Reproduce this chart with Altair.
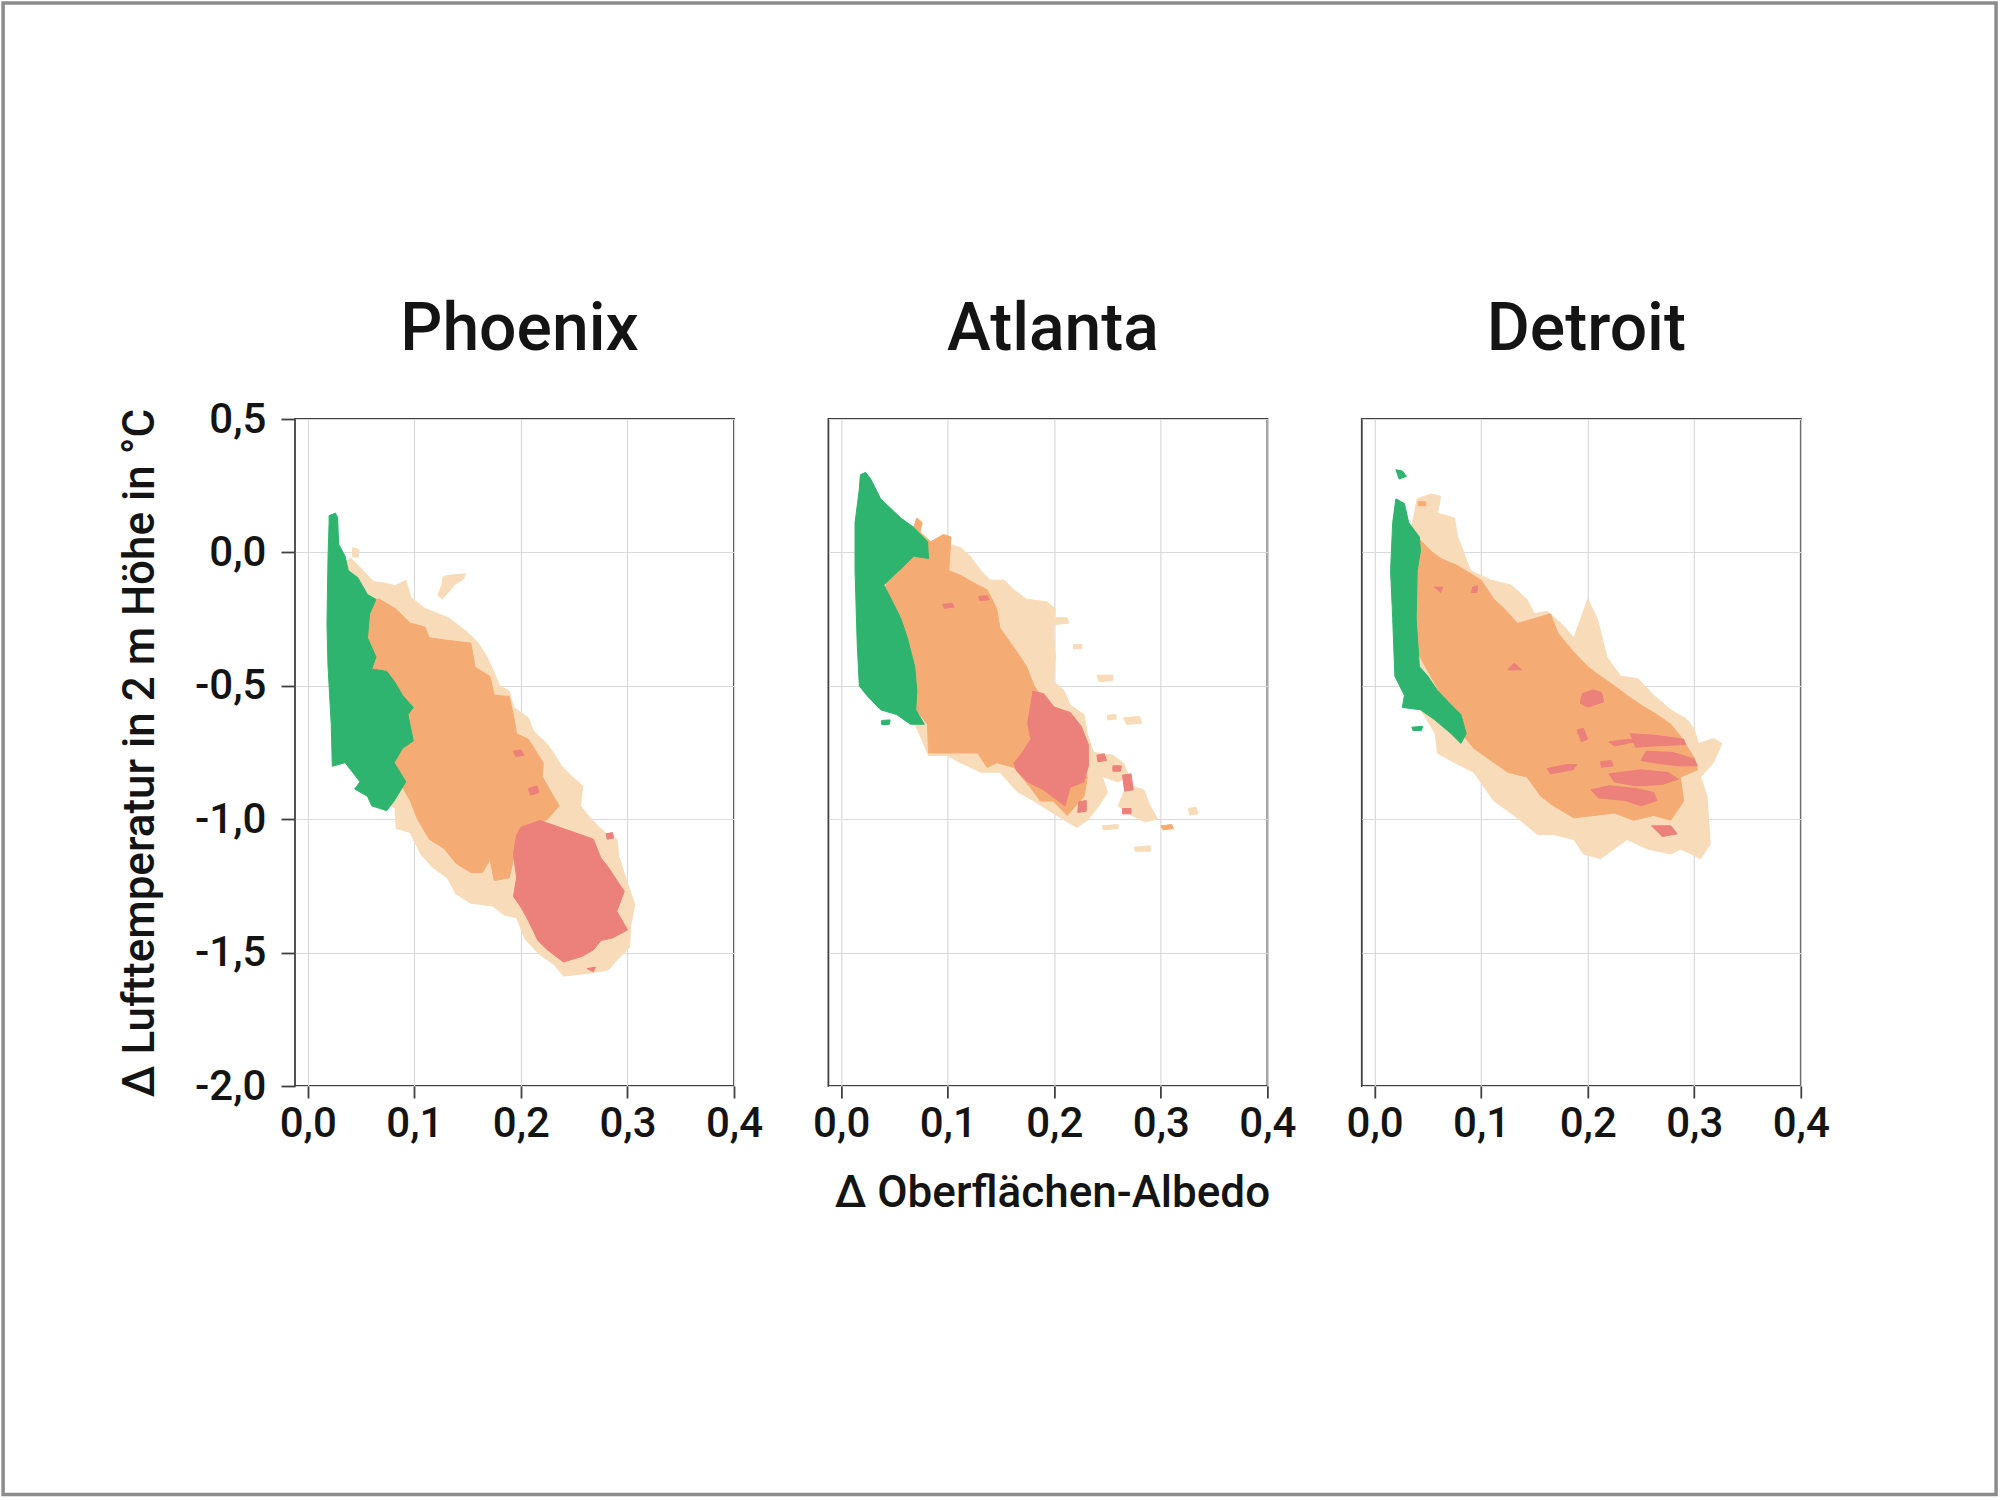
import altair as alt
import pandas as pd

# ---------------------------------------------------------------------------
# Data: outlines of the filled density regions (albedo change, temperature change)
# ---------------------------------------------------------------------------
CITIES = ["Phoenix", "Atlanta", "Detroit"]
DRAW_ORDER = ["peach", "orange", "red", "green"]
LAYER_COLORS = {
    "peach": "#F8DCB9",
    "orange": "#F5AC74",
    "red": "#EC807A",
    "green": "#2EB46F",
}

X_TICKS = [0.0, 0.1, 0.2, 0.3, 0.4]
Y_TICKS = [-2.0, -1.5, -1.0, -0.5, 0.0, 0.5]
X_TITLE = "Δ Oberflächen-Albedo"
Y_TITLE = "Δ Lufttemperatur in 2 m Höhe in °C"

# --- Phoenix ---------------------------------------------------------------
PHOENIX_PEACH_MAIN = [
    (0.040, -0.02), (0.050, -0.06), (0.062, -0.11), (0.072, -0.115), (0.082, -0.125),
    (0.092, -0.105), (0.097, -0.17), (0.110, -0.21), (0.132, -0.245), (0.150, -0.30),
    (0.160, -0.34), (0.168, -0.39), (0.176, -0.46), (0.180, -0.50), (0.189, -0.52),
    (0.193, -0.58), (0.207, -0.62), (0.212, -0.67), (0.225, -0.72), (0.232, -0.76),
    (0.238, -0.80), (0.248, -0.84), (0.258, -0.875), (0.256, -0.95), (0.266, -1.00),
    (0.279, -1.05), (0.290, -1.075), (0.292, -1.14), (0.300, -1.24), (0.307, -1.32),
    (0.303, -1.40), (0.302, -1.48), (0.292, -1.52), (0.282, -1.565), (0.262, -1.578),
    (0.240, -1.588), (0.231, -1.545), (0.217, -1.505), (0.204, -1.45), (0.196, -1.37),
    (0.185, -1.36), (0.173, -1.325), (0.153, -1.315), (0.139, -1.28), (0.131, -1.22),
    (0.117, -1.18), (0.106, -1.13), (0.096, -1.05), (0.083, -1.035), (0.082, -0.96),
    (0.060, -0.90), (0.040, -0.50), (0.035, -0.05),
]
PHOENIX_PEACH_TOP = [
    (0.127, -0.09), (0.135, -0.085), (0.148, -0.08), (0.146, -0.10), (0.138, -0.12),
    (0.132, -0.15), (0.126, -0.175), (0.122, -0.16), (0.126, -0.12),
]
PHOENIX_PEACH_DOT = [(0.042, 0.018), (0.048, 0.010), (0.047, -0.020), (0.042, -0.015)]

PHOENIX_ORANGE_MAIN = [
    (0.058, -0.18), (0.067, -0.175), (0.082, -0.21), (0.096, -0.265), (0.110, -0.28),
    (0.114, -0.32), (0.132, -0.33), (0.153, -0.34), (0.157, -0.43), (0.171, -0.465),
    (0.175, -0.535), (0.189, -0.54), (0.193, -0.61), (0.196, -0.68), (0.207, -0.70),
    (0.221, -0.79), (0.220, -0.84), (0.230, -0.91), (0.236, -0.95), (0.225, -1.00),
    (0.211, -1.03), (0.196, -1.075), (0.193, -1.15), (0.189, -1.22), (0.175, -1.23),
    (0.171, -1.15), (0.164, -1.20), (0.153, -1.20), (0.139, -1.165), (0.128, -1.11),
    (0.114, -1.075), (0.103, -1.00), (0.096, -0.93), (0.089, -0.88), (0.080, -0.85),
    (0.060, -0.60), (0.050, -0.30),
]

PHOENIX_RED_MAIN = [
    (0.200, -1.03), (0.218, -1.005), (0.236, -1.03), (0.254, -1.055), (0.268, -1.075),
    (0.275, -1.145), (0.282, -1.18), (0.291, -1.235), (0.297, -1.27), (0.290, -1.345),
    (0.300, -1.415), (0.286, -1.445), (0.275, -1.455), (0.268, -1.49), (0.257, -1.515),
    (0.240, -1.535), (0.225, -1.49), (0.216, -1.455), (0.207, -1.38), (0.200, -1.33),
    (0.193, -1.29), (0.196, -1.22), (0.193, -1.13), (0.196, -1.06),
]
PHOENIX_RED_SPOTS = [
    [(0.193, -0.745), (0.200, -0.740), (0.203, -0.760), (0.195, -0.765)],
    [(0.207, -0.885), (0.215, -0.875), (0.217, -0.900), (0.209, -0.910)],
    [(0.280, -1.055), (0.286, -1.050), (0.287, -1.070), (0.281, -1.075)],
    [(0.262, -1.560), (0.270, -1.555), (0.268, -1.572)],
]

PHOENIX_GREEN_MAIN = [
    (0.020, 0.138), (0.026, 0.147), (0.028, 0.130), (0.029, 0.031), (0.035, -0.014),
    (0.038, -0.068), (0.047, -0.095), (0.056, -0.158), (0.064, -0.176), (0.058, -0.230),
    (0.056, -0.320), (0.064, -0.392), (0.060, -0.437), (0.074, -0.446), (0.081, -0.482),
    (0.089, -0.536), (0.099, -0.581), (0.094, -0.608), (0.099, -0.707), (0.089, -0.734),
    (0.081, -0.788), (0.092, -0.860), (0.081, -0.932), (0.074, -0.968), (0.060, -0.950),
    (0.056, -0.914), (0.044, -0.887), (0.049, -0.860), (0.035, -0.788), (0.023, -0.802),
    (0.022, -0.644), (0.019, -0.428), (0.018, -0.266), (0.019, -0.014), (0.020, 0.112),
]

# --- Atlanta ---------------------------------------------------------------
ATLANTA_PEACH_MAIN = [
    (0.060, 0.050), (0.101, 0.031), (0.112, 0.018), (0.121, -0.014), (0.131, -0.068),
    (0.140, -0.104), (0.153, -0.104), (0.162, -0.140), (0.174, -0.176), (0.193, -0.185),
    (0.201, -0.212), (0.199, -0.302), (0.201, -0.392), (0.199, -0.482), (0.209, -0.518),
    (0.215, -0.572), (0.228, -0.608), (0.231, -0.680), (0.237, -0.752), (0.245, -0.840),
    (0.250, -0.900), (0.240, -0.960), (0.231, -1.004), (0.221, -1.031), (0.206, -0.995),
    (0.181, -0.932), (0.165, -0.896), (0.149, -0.824), (0.131, -0.824), (0.112, -0.788),
    (0.099, -0.761), (0.082, -0.761), (0.070, -0.650),
]
ATLANTA_PEACH_SPOTS = [
    [(0.237, -0.75), (0.255, -0.76), (0.265, -0.79), (0.270, -0.84), (0.260, -0.86), (0.245, -0.84)],
    [(0.268, -0.87), (0.284, -0.89), (0.290, -0.95), (0.297, -1.00), (0.285, -1.01), (0.270, -0.98), (0.260, -0.95)],
    [(0.275, -1.105), (0.290, -1.100), (0.290, -1.120), (0.276, -1.120)],
    [(0.326, -0.960), (0.333, -0.955), (0.335, -0.980), (0.327, -0.985)],
    [(0.245, -1.025), (0.260, -1.020), (0.260, -1.035), (0.246, -1.040)],
    [(0.200, -0.245), (0.212, -0.245), (0.214, -0.265), (0.201, -0.270)],
    [(0.218, -0.345), (0.226, -0.345), (0.226, -0.360), (0.218, -0.362)],
    [(0.240, -0.460), (0.255, -0.460), (0.255, -0.480), (0.242, -0.485)],
    [(0.265, -0.620), (0.280, -0.615), (0.282, -0.640), (0.268, -0.645)],
    [(0.250, -0.610), (0.258, -0.608), (0.258, -0.625), (0.250, -0.628)],
]

ATLANTA_ORANGE_MAIN = [
    (0.053, 0.076), (0.068, 0.094), (0.071, 0.129), (0.076, 0.112), (0.074, 0.076),
    (0.084, 0.040), (0.096, 0.067), (0.103, 0.058), (0.101, -0.068), (0.112, -0.086),
    (0.128, -0.122), (0.137, -0.140), (0.146, -0.212), (0.149, -0.284), (0.162, -0.356),
    (0.174, -0.428), (0.181, -0.500), (0.193, -0.572), (0.206, -0.590), (0.218, -0.680),
    (0.221, -0.788), (0.231, -0.842), (0.228, -0.914), (0.212, -0.986), (0.199, -0.932),
    (0.187, -0.932), (0.177, -0.878), (0.162, -0.806), (0.146, -0.788), (0.137, -0.806),
    (0.128, -0.752), (0.099, -0.752), (0.082, -0.752), (0.081, -0.644), (0.056, -0.518),
    (0.040, -0.158),
]
ATLANTA_ORANGE_SPOTS = [
    [(0.300, -1.025), (0.310, -1.020), (0.312, -1.035), (0.302, -1.040)],
]

ATLANTA_RED_MAIN = [
    (0.180, -0.52), (0.190, -0.53), (0.200, -0.58), (0.215, -0.60), (0.225, -0.65),
    (0.232, -0.72), (0.232, -0.80), (0.228, -0.86), (0.215, -0.88), (0.210, -0.95),
    (0.200, -0.92), (0.190, -0.89), (0.175, -0.86), (0.165, -0.82), (0.162, -0.79),
    (0.170, -0.75), (0.178, -0.70), (0.175, -0.64), (0.178, -0.57),
]
ATLANTA_RED_SPOTS = [
    [(0.095, -0.195), (0.104, -0.190), (0.106, -0.205), (0.097, -0.210)],
    [(0.129, -0.165), (0.137, -0.162), (0.139, -0.178), (0.130, -0.180)],
    [(0.240, -0.760), (0.247, -0.755), (0.249, -0.780), (0.241, -0.785)],
    [(0.255, -0.800), (0.263, -0.800), (0.262, -0.820), (0.255, -0.820)],
    [(0.264, -0.835), (0.272, -0.830), (0.274, -0.890), (0.266, -0.895)],
    [(0.264, -0.960), (0.272, -0.960), (0.272, -0.980), (0.264, -0.980)],
    [(0.223, -0.935), (0.230, -0.930), (0.230, -0.970), (0.222, -0.975)],
]

ATLANTA_GREEN_MAIN = [
    (0.018, 0.291), (0.023, 0.300), (0.028, 0.273), (0.037, 0.201), (0.056, 0.129),
    (0.068, 0.094), (0.081, 0.040), (0.082, -0.023), (0.068, -0.014), (0.059, -0.050),
    (0.040, -0.122), (0.047, -0.176), (0.056, -0.248), (0.062, -0.320), (0.069, -0.428),
    (0.071, -0.518), (0.070, -0.590), (0.078, -0.644), (0.065, -0.644), (0.052, -0.608),
    (0.037, -0.590), (0.024, -0.536), (0.017, -0.500), (0.015, -0.338), (0.013, -0.068),
    (0.013, 0.112), (0.017, 0.237),
]
ATLANTA_GREEN_SPOTS = [
    [(0.038, -0.630), (0.046, -0.628), (0.045, -0.645), (0.038, -0.645)],
]

# --- Detroit ---------------------------------------------------------------
DETROIT_PEACH_MAIN = [
    (0.035, 0.100), (0.040, 0.201), (0.053, 0.219), (0.062, 0.210), (0.059, 0.147),
    (0.075, 0.129), (0.078, 0.058), (0.090, -0.068), (0.109, -0.104), (0.128, -0.122),
    (0.143, -0.176), (0.150, -0.230), (0.162, -0.221), (0.175, -0.266), (0.187, -0.320),
    (0.200, -0.176), (0.209, -0.248), (0.218, -0.392), (0.231, -0.464), (0.247, -0.473),
    (0.262, -0.536), (0.278, -0.590), (0.293, -0.626), (0.300, -0.662), (0.304, -0.716),
    (0.318, -0.698), (0.326, -0.716), (0.318, -0.788), (0.306, -0.842), (0.312, -0.914),
    (0.315, -1.094), (0.306, -1.148), (0.297, -1.130), (0.287, -1.112), (0.278, -1.130),
    (0.256, -1.112), (0.237, -1.076), (0.212, -1.148), (0.196, -1.130), (0.187, -1.076),
    (0.168, -1.058), (0.153, -1.058), (0.134, -0.995), (0.112, -0.932), (0.093, -0.824),
    (0.075, -0.788), (0.059, -0.752), (0.057, -0.680), (0.030, -0.500),
]

DETROIT_ORANGE_MAIN = [
    (0.040, 0.058), (0.053, 0.004), (0.062, -0.023), (0.078, -0.050), (0.100, -0.104),
    (0.112, -0.176), (0.122, -0.212), (0.134, -0.266), (0.150, -0.248), (0.165, -0.230),
    (0.172, -0.302), (0.187, -0.374), (0.200, -0.428), (0.212, -0.464), (0.225, -0.500),
    (0.237, -0.536), (0.250, -0.572), (0.265, -0.608), (0.278, -0.644), (0.287, -0.689),
    (0.300, -0.770), (0.303, -0.815), (0.287, -0.842), (0.290, -0.932), (0.278, -1.004),
    (0.262, -0.986), (0.243, -1.004), (0.225, -0.977), (0.206, -0.986), (0.187, -0.995),
    (0.168, -0.950), (0.156, -0.914), (0.143, -0.842), (0.125, -0.824), (0.112, -0.788),
    (0.093, -0.734), (0.084, -0.689), (0.030, -0.300),
]
DETROIT_ORANGE_SPOTS = [
    [(0.041, 0.190), (0.048, 0.190), (0.048, 0.175), (0.041, 0.175)],
]

DETROIT_RED_SPOTS = [
    [(0.056, -0.130), (0.064, -0.130), (0.062, -0.150)],
    [(0.092, -0.130), (0.097, -0.125), (0.096, -0.150), (0.091, -0.150)],
    [(0.125, -0.440), (0.131, -0.415), (0.138, -0.440)],
    [(0.195, -0.530), (0.205, -0.515), (0.213, -0.525), (0.215, -0.560), (0.200, -0.580), (0.193, -0.565)],
    [(0.190, -0.665), (0.196, -0.660), (0.200, -0.700), (0.194, -0.710)],
    [(0.162, -0.810), (0.180, -0.795), (0.190, -0.795), (0.186, -0.815), (0.165, -0.830)],
    [(0.212, -0.785), (0.222, -0.780), (0.224, -0.800), (0.213, -0.805)],
    [(0.220, -0.710), (0.240, -0.700), (0.245, -0.710), (0.225, -0.725)],
    [(0.240, -0.680), (0.262, -0.685), (0.290, -0.700), (0.292, -0.720), (0.265, -0.725), (0.245, -0.730)],
    [(0.255, -0.745), (0.280, -0.750), (0.300, -0.775), (0.303, -0.800), (0.285, -0.800), (0.265, -0.790), (0.250, -0.780)],
    [(0.220, -0.830), (0.250, -0.815), (0.275, -0.825), (0.285, -0.850), (0.270, -0.870), (0.245, -0.875), (0.225, -0.860)],
    [(0.203, -0.890), (0.220, -0.875), (0.245, -0.885), (0.262, -0.900), (0.265, -0.930), (0.250, -0.950), (0.235, -0.930), (0.210, -0.920)],
    [(0.260, -1.025), (0.278, -1.025), (0.284, -1.055), (0.270, -1.065)],
]

DETROIT_GREEN_MAIN = [
    (0.020, 0.201), (0.028, 0.183), (0.032, 0.112), (0.042, 0.058), (0.043, 0.004),
    (0.040, -0.068), (0.039, -0.248), (0.042, -0.428), (0.050, -0.464), (0.059, -0.518),
    (0.072, -0.572), (0.081, -0.608), (0.086, -0.680), (0.081, -0.716), (0.072, -0.680),
    (0.056, -0.626), (0.043, -0.590), (0.026, -0.581), (0.028, -0.536), (0.019, -0.464),
    (0.017, -0.248), (0.015, -0.068), (0.017, 0.112),
]
DETROIT_GREEN_SPOTS = [
    [(0.020, 0.310), (0.026, 0.305), (0.030, 0.285), (0.023, 0.275)],
    [(0.035, -0.655), (0.045, -0.652), (0.044, -0.668), (0.036, -0.668)],
]

REGIONS = {
    "Phoenix": {
        "peach": [PHOENIX_PEACH_MAIN, PHOENIX_PEACH_TOP, PHOENIX_PEACH_DOT],
        "orange": [PHOENIX_ORANGE_MAIN],
        "red": [PHOENIX_RED_MAIN] + PHOENIX_RED_SPOTS,
        "green": [PHOENIX_GREEN_MAIN],
    },
    "Atlanta": {
        "peach": [ATLANTA_PEACH_MAIN] + ATLANTA_PEACH_SPOTS,
        "orange": [ATLANTA_ORANGE_MAIN] + ATLANTA_ORANGE_SPOTS,
        "red": [ATLANTA_RED_MAIN] + ATLANTA_RED_SPOTS,
        "green": [ATLANTA_GREEN_MAIN] + ATLANTA_GREEN_SPOTS,
    },
    "Detroit": {
        "peach": [DETROIT_PEACH_MAIN],
        "orange": [DETROIT_ORANGE_MAIN] + DETROIT_ORANGE_SPOTS,
        "red": DETROIT_RED_SPOTS,
        "green": [DETROIT_GREEN_MAIN] + DETROIT_GREEN_SPOTS,
    },
}

# Vertical placement of each panel title above its frame
TITLE_OFFSETS = {"Phoenix": -18, "Atlanta": 3, "Detroit": 3}

# ---------------------------------------------------------------------------
# Long table: one row per polygon vertex
# ---------------------------------------------------------------------------
rows = []
for city, layers in REGIONS.items():
    for layer, polys in layers.items():
        for p, poly in enumerate(polys):
            for i, (x, y) in enumerate(poly):
                rows.append({"city": city, "layer": layer, "poly": f"{layer}{p}",
                             "idx": i, "x": x, "y": y})
df = pd.DataFrame(rows)

FONT = "Roboto"
INK = "#141414"
FRAME = "#404040"
PANEL_W, PANEL_H = 439, 667
LABEL_EXPR = "replace(replace(format(datum.value, '.1f'), '.', ','), '\u2212', '-')"

x_scale = alt.Scale(domain=[-0.012, 0.4], nice=False, zero=False)
y_scale = alt.Scale(domain=[-2.0, 0.5], nice=False, zero=False)


def x_axis(with_title):
    kw = dict(values=X_TICKS, labelExpr=LABEL_EXPR, labelFlush=False, domain=False,
              tickSize=12, labelPadding=5, grid=True)
    if with_title:
        kw.update(title=X_TITLE, titleX=PANEL_W / 2 + 4, titleY=120,
                  titleBaseline="alphabetic", titleAlign="center")
    else:
        kw.update(title=None)
    return alt.Axis(**kw)


def y_axis(with_labels):
    if with_labels:
        return alt.Axis(values=Y_TICKS, labelExpr=LABEL_EXPR, labelFlush=False, domain=False,
                        tickSize=14, labelPadding=15, grid=True, title=Y_TITLE,
                        titleX=-142, titleY=PANEL_H / 2, titleAngle=270,
                        titleBaseline="alphabetic", titleAlign="center")
    return alt.Axis(values=Y_TICKS, labels=False, ticks=False, domain=False,
                    grid=True, title=None)


def panel(city, first, middle):
    layers = []
    for layer in DRAW_ORDER:
        sub = df[(df.city == city) & (df.layer == layer)]
        if sub.empty:
            continue
        color = LAYER_COLORS[layer]
        layers.append(
            alt.Chart(sub)
            .mark_line(interpolate="linear-closed", fill=color, stroke=color,
                       strokeWidth=1, strokeJoin="round")
            .encode(
                x=alt.X("x:Q", scale=x_scale, axis=x_axis(middle)),
                y=alt.Y("y:Q", scale=y_scale, axis=y_axis(first)),
                detail="poly:N",
                order="idx:Q",
            )
        )
    return alt.layer(*layers).properties(
        width=PANEL_W,
        height=PANEL_H,
        title=alt.TitleParams(city, fontSize=66, fontWeight=500, font=FONT, color=INK,
                              anchor="middle", baseline="alphabetic",
                              offset=TITLE_OFFSETS[city], dx=5),
    )


# Thin grey frame around the whole figure, hung on an empty trailing cell
border = (
    alt.Chart(pd.DataFrame({"k": [0]}))
    .mark_rect(fill="transparent", stroke="#8c8c8c", strokeWidth=3.5)
    .encode(x=alt.value(2 - 1894.1), x2=alt.value(1995 - 1894.1),
            y=alt.value(4 - 420), y2=alt.value(1495.5 - 420))
    .properties(width=1, height=1, view=alt.ViewBackground(stroke="transparent"))
)

chart = (
    alt.hconcat(
        panel("Phoenix", True, False),
        panel("Atlanta", False, True),
        panel("Detroit", False, False),
        border,
        spacing=94.4,
        bounds="flush",
    )
    .properties(padding=0, background="white")
    .configure_view(stroke=FRAME, strokeWidth=1.8)
    .configure_axis(
        labelFont=FONT, labelFontSize=42, labelFontWeight=500, labelColor=INK,
        titleFont=FONT, titleFontSize=44, titleFontWeight=500, titleColor=INK,
        gridColor="#d9d9d9", gridWidth=1.2, tickColor=FRAME, tickWidth=1.8,
    )
)

chart.save("out.html", embed_options={"renderer": "svg", "actions": False})
